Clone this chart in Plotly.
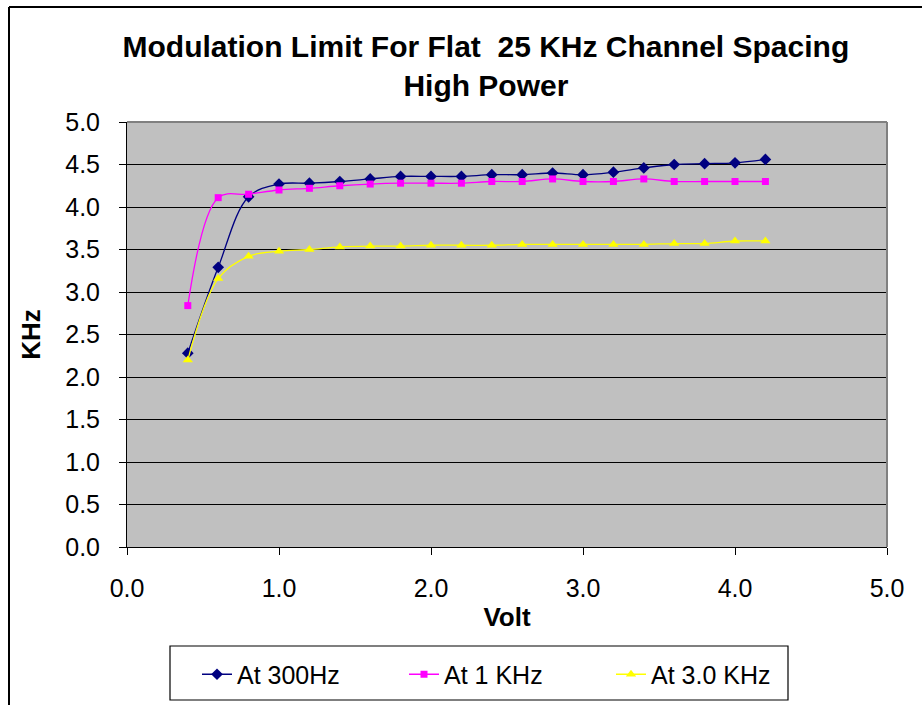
import plotly.graph_objects as go

# Supply voltage (V) at each measurement step
volt = [0.4, 0.6, 0.8, 1.0, 1.2, 1.4, 1.6, 1.8, 2.0, 2.2,
        2.4, 2.6, 2.8, 3.0, 3.2, 3.4, 3.6, 3.8, 4.0, 4.2]

# Modulation limit (KHz) for each test tone
khz_300hz = [2.28, 3.29, 4.12, 4.27, 4.28, 4.30, 4.33, 4.36, 4.36, 4.36,
             4.38, 4.38, 4.40, 4.38, 4.41, 4.46, 4.50, 4.51, 4.52, 4.56]
khz_1k = [2.84, 4.11, 4.15, 4.20, 4.22, 4.25, 4.27, 4.28, 4.28, 4.28,
          4.30, 4.30, 4.33, 4.30, 4.30, 4.33, 4.30, 4.30, 4.30, 4.30]
khz_3k = [2.20, 3.16, 3.42, 3.48, 3.50, 3.53, 3.54, 3.54, 3.55, 3.55,
          3.55, 3.56, 3.56, 3.56, 3.56, 3.56, 3.57, 3.57, 3.60, 3.60]

series = [
    ("At 300Hz", khz_300hz, "#000080", "diamond", 9),
    ("At 1 KHz", khz_1k, "#FF00FF", "square", 7),
    ("At 3.0 KHz", khz_3k, "#FFFF00", "triangle-up", 9),
]

FONT = "Liberation Sans, Arial, sans-serif"

fig = go.Figure()
for name, vals, color, symbol, size in series:
    fig.add_trace(go.Scatter(
        x=volt, y=vals, name=name, mode="lines+markers",
        line=dict(color=color, width=1.3, shape="spline", smoothing=1.0),
        marker=dict(color=color, symbol=symbol, size=size, line=dict(width=0)),
    ))

fig.update_layout(
    width=922, height=705,
    margin=dict(l=127, r=35, t=122, b=158, autoexpand=False),
    paper_bgcolor="white",
    plot_bgcolor="#C0C0C0",
    font=dict(family=FONT, color="black"),
    title=dict(
        text="<b>Modulation Limit For Flat  25 KHz Channel Spacing<br>High Power</b>",
        x=0.527, xanchor="center", y=0.919, yanchor="middle",
        font=dict(size=30, family=FONT, color="black"),
    ),
    showlegend=True,
    legend=dict(
        orientation="h", x=(197 - 127) / 760, xanchor="left",
        y=-0.3, yanchor="middle",
        font=dict(size=25, family=FONT), bgcolor="rgba(0,0,0,0)",
        borderwidth=0, entrywidth=162, itemwidth=30,
    ),
    shapes=[
        # legend frame
        dict(type="rect", xref="paper", yref="paper",
             x0=(170 - 127) / 760, x1=(788 - 127) / 760,
             y0=(547 - 700) / 425, y1=(547 - 646) / 425,
             line=dict(color="black", width=1.2), fillcolor="rgba(0,0,0,0)"),
        # plot-area frame (top and right edges)
        dict(type="line", xref="paper", yref="paper", x0=0, x1=1, y0=1, y1=1,
             line=dict(color="#808080", width=2)),
        dict(type="line", xref="paper", yref="paper", x0=1, x1=1, y0=0, y1=1,
             line=dict(color="#808080", width=2)),
        # chart-area frame (left and top edges)
        dict(type="line", xref="paper", yref="paper",
             x0=-118 / 760, x1=1.2, y0=(547 - 7) / 425, y1=(547 - 7) / 425,
             line=dict(color="black", width=2)),
        dict(type="line", xref="paper", yref="paper",
             x0=-118 / 760, x1=-118 / 760, y0=-0.5, y1=(547 - 7) / 425,
             line=dict(color="black", width=2)),
    ],
)

fig.update_xaxes(
    range=[0, 5], dtick=1, tick0=0, tickformat=".1f",
    showgrid=False, zeroline=False,
    showline=True, linecolor="black", linewidth=1,
    ticks="outside", ticklen=7, tickcolor="black", tickwidth=1,
    ticklabelstandoff=12,
    tickfont=dict(size=25, family=FONT),
    title=dict(text="<b>Volt</b>", font=dict(size=26, family=FONT), standoff=6),
)
fig.update_yaxes(
    range=[0, 5], dtick=0.5, tick0=0, tickformat=".1f",
    showgrid=True, gridcolor="black", gridwidth=1,
    zeroline=False,
    showline=True, linecolor="black", linewidth=1,
    ticks="outside", ticklen=7, tickcolor="black", tickwidth=1,
    ticklabelstandoff=14,
    tickfont=dict(size=25, family=FONT),
    title=dict(text="<b>KHz</b>", font=dict(size=26, family=FONT), standoff=17),
)

fig.write_html("out.html")
